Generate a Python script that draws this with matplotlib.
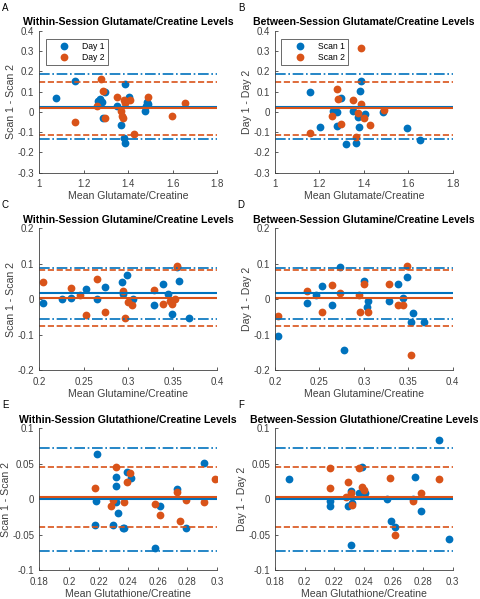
import matplotlib
matplotlib.use("Agg")
import matplotlib.pyplot as plt
from matplotlib.ticker import FuncFormatter, FixedLocator

plt.rcParams['font.family'] = ['Liberation Sans', 'DejaVu Sans']

BLUE = '#0072BD'
ORANGE = '#D95319'

# ---------------- Panel A: Within-session Glutamate ----------------
a_day1_x = [1.073, 1.162, 1.265, 1.273, 1.282, 1.288, 1.297, 1.350, 1.366, 1.387, 1.380, 1.387, 1.405, 1.478, 1.479, 1.483, 1.491]
a_day1_y = [0.066, 0.151, 0.052, 0.063, 0.050, -0.032, 0.100, 0.027, -0.063, 0.138, -0.128, -0.156, 0.073, 0.006, 0.030, 0.050, 0.040]
a_day2_x = [1.162, 1.277, 1.288, 1.262, 1.297, 1.350, 1.370, 1.373, 1.378, 1.380, 1.407, 1.427, 1.491, 1.596, 1.658, 1.385]
a_day2_y = [-0.050, 0.163, 0.104, 0.027, -0.030, 0.071, 0.006, -0.020, -0.030, 0.057, 0.057, -0.109, 0.075, -0.022, 0.042, 0.045]
a_bias = [0.024, 0.019]
a_loa_blue = [0.187, -0.133]
a_loa_orange = [0.148, -0.112]

# ---------------- Panel B: Between-session Glutamate ----------------
b_scan1_x = [1.159, 1.203, 1.260, 1.279, 1.280, 1.297, 1.320, 1.350, 1.364, 1.372, 1.378, 1.383, 1.389, 1.405, 1.488, 1.593, 1.655]
b_scan1_y = [0.099, -0.076, 0.003, 0.000, -0.068, 0.068, -0.160, 0.006, -0.156, -0.027, -0.073, 0.105, 0.151, -0.010, 0.000, -0.082, -0.137]
b_scan2_x = [1.159, 1.257, 1.278, 1.285, 1.296, 1.350, 1.365, 1.387, 1.375, 1.389, 1.400, 1.426, 1.490]
b_scan2_y = [-0.102, -0.020, 0.113, 0.065, -0.062, 0.056, -0.125, 0.313, -0.006, 0.040, -0.030, -0.065, 0.010]
b_bias = [0.025, 0.019]
b_loa_blue = [0.187, -0.133]
b_loa_orange = [0.148, -0.112]

# ---------------- Panel C: Within-session Glutamine ----------------
c_day1_x = [0.2037, 0.2255, 0.236, 0.253, 0.265, 0.274, 0.293, 0.299, 0.294, 0.305, 0.329, 0.339, 0.345, 0.349, 0.357, 0.369, 0.355]
c_day1_y = [-0.010, 0.001, 0.003, 0.028, 0.000, 0.035, 0.050, 0.068, 0.016, 0.000, -0.017, 0.044, 0.016, -0.042, 0.051, -0.052, 0.090]
c_day2_x = [0.2037, 0.236, 0.2457, 0.253, 0.265, 0.274, 0.294, 0.297, 0.300, 0.304, 0.329, 0.339, 0.347, 0.349, 0.353, 0.355]
c_day2_y = [0.049, 0.033, 0.012, -0.043, 0.058, -0.037, 0.023, -0.053, -0.007, -0.016, 0.027, -0.014, -0.005, -0.012, 0.002, 0.094]
c_bias = [0.017, 0.004]
c_loa_blue = [0.089, -0.056]
c_loa_orange = [0.083, -0.074]

# ---------------- Panel D: Between-session Glutamine ----------------
d_scan1_x = [0.2038, 0.2356, 0.246, 0.253, 0.2645, 0.273, 0.278, 0.3006, 0.305, 0.304, 0.328, 0.338, 0.344, 0.349, 0.353, 0.355, 0.368]
d_scan1_y = [-0.104, -0.010, 0.013, 0.037, -0.015, 0.090, -0.142, 0.051, -0.005, -0.021, -0.004, 0.044, 0.004, 0.062, -0.064, -0.039, -0.065]
d_scan2_x = [0.2038, 0.2356, 0.253, 0.2645, 0.273, 0.294, 0.296, 0.3006, 0.305, 0.328, 0.338, 0.344, 0.349, 0.353]
d_scan2_y = [-0.047, 0.022, -0.035, 0.041, 0.018, 0.013, -0.037, 0.044, -0.037, 0.042, -0.015, -0.017, 0.094, -0.156]
d_bias = [0.018, 0.004]
d_loa_blue = [0.089, -0.056]
d_loa_orange = [0.083, -0.074]

# ---------------- Panel E: Within-session Glutathione ----------------
e_day1_x = [0.219, 0.218, 0.2175, 0.230, 0.2315, 0.2317, 0.232, 0.233, 0.2367, 0.2375, 0.2393, 0.2416, 0.258, 0.2616, 0.273, 0.279, 0.2915]
e_day1_y = [0.0638, -0.0026, -0.036, -0.0355, -0.0035, 0.019, 0.031, -0.019, -0.0398, -0.041, 0.039, 0.030, -0.0692, -0.009, 0.0139, -0.040, 0.0515]
e_day2_x = [0.2175, 0.2286, 0.2301, 0.232, 0.237, 0.2395, 0.241, 0.2578, 0.2616, 0.273, 0.2748, 0.2793, 0.2915, 0.2984]
e_day2_y = [0.016, -0.009, -0.0016, 0.046, -0.004, 0.0238, 0.037, -0.007, -0.022, 0.0106, -0.030, -0.001, -0.0035, 0.028]
e_bias = [0.000, 0.003]
e_loa_blue = [0.0727, -0.0727]
e_loa_orange = [0.046, -0.039]

# ---------------- Panel F: Between-session Glutathione ----------------
f_scan1_x = [0.1895, 0.2174, 0.2174, 0.2295, 0.2313, 0.232, 0.2311, 0.237, 0.239, 0.2405, 0.2554, 0.2581, 0.2613, 0.273, 0.2746, 0.2786, 0.291, 0.2977]
f_scan1_y = [0.028, -0.0023, -0.009, -0.009, 0.011, -0.0047, -0.065, 0.0094, 0.045, 0.0094, 0.000, -0.031, -0.0385, 0.000, 0.031, -0.0164, 0.0835, -0.0563]
f_scan2_x = [0.2174, 0.2171, 0.2279, 0.2295, 0.2315, 0.2318, 0.237, 0.239, 0.2403, 0.2579, 0.2613, 0.273, 0.2786, 0.291]
f_scan2_y = [0.044, 0.0164, 0.0038, 0.025, 0.009, -0.008, 0.044, 0.0178, 0.013, 0.030, -0.050, -0.0023, 0.0085, 0.028]
f_bias = [0.000, 0.003]
f_loa_blue = [0.0727, -0.0727]
f_loa_orange = [0.046, -0.039]

titles = ['Within-Session Glutamate/Creatine Levels', 'Between-Session Glutamate/Creatine Levels',
          'Within-Session Glutamine/Creatine Levels', 'Between-Session Glutamine/Creatine Levels',
          'Within-Session Glutathione/Creatine Levels', 'Between-Session Glutathione/Creatine Levels']
xlabels = ['Mean Glutamate/Creatine'] * 2 + ['Mean Glutamine/Creatine'] * 2 + ['Mean Glutathione/Creatine'] * 2
ylabels = ['Scan 1 - Scan 2', 'Day 1 - Day 2'] * 3
letters = ['A', 'B', 'C', 'D', 'E', 'F']

panels = [
    (a_day1_x, a_day1_y, a_day2_x, a_day2_y, a_bias, a_loa_blue, a_loa_orange),
    (b_scan1_x, b_scan1_y, b_scan2_x, b_scan2_y, b_bias, b_loa_blue, b_loa_orange),
    (c_day1_x, c_day1_y, c_day2_x, c_day2_y, c_bias, c_loa_blue, c_loa_orange),
    (d_scan1_x, d_scan1_y, d_scan2_x, d_scan2_y, d_bias, d_loa_blue, d_loa_orange),
    (e_day1_x, e_day1_y, e_day2_x, e_day2_y, e_bias, e_loa_blue, e_loa_orange),
    (f_scan1_x, f_scan1_y, f_scan2_x, f_scan2_y, f_bias, f_loa_blue, f_loa_orange),
]

xlims = [(1, 1.8)] * 2 + [(0.2, 0.4)] * 2 + [(0.18, 0.3)] * 2
ylims = [(-0.3, 0.4)] * 2 + [(-0.2, 0.2)] * 2 + [(-0.1, 0.1)] * 2
xticks = [[1, 1.2, 1.4, 1.6, 1.8]] * 2 + [[0.2, 0.25, 0.3, 0.35, 0.4]] * 2 + [[0.18, 0.2, 0.22, 0.24, 0.26, 0.28, 0.3]] * 2
yticks = [[-0.3, -0.2, -0.1, 0, 0.1, 0.2, 0.3, 0.4]] * 2 + [[-0.2, -0.1, 0, 0.1, 0.2]] * 2 + [[-0.1, -0.05, 0, 0.05, 0.1]] * 2
legends = [['Day 1', 'Day 2'], ['Scan 1', 'Scan 2'], None, None, None, None]

fig = plt.figure(figsize=(4.8, 5.99), dpi=100)
W, H = 480, 599
lefts = [39.3, 275.0]
tops = [30.7, 228.3, 428.3]
aw, ah = 177.7, 142.0

fmt = FuncFormatter(lambda v, p: ('%g' % round(v, 6)))
GRAY = '#404040'

for i, (x1, y1, x2, y2, bias, loab, loao) in enumerate(panels):
    r, c = divmod(i, 2)
    ax = fig.add_axes([lefts[c] / W, 1 - (tops[r] + ah) / H, aw / W, ah / H])
    ax.plot(x1, y1, 'o', color=BLUE, ms=5.6, mec='none', label=(legends[i][0] if legends[i] else None))
    ax.plot(x2, y2, 'o', color=ORANGE, ms=5.6, mec='none', label=(legends[i][1] if legends[i] else None))
    xl = xlims[i]
    ax.plot(xl, [bias[0]] * 2, '-', color=BLUE, lw=1.5)
    ax.plot(xl, [bias[1]] * 2, '-', color=ORANGE, lw=1.5)
    for v in loab:
        ax.plot(xl, [v] * 2, '-.', color=BLUE, lw=1.2)
    for v in loao:
        ax.plot(xl, [v] * 2, '--', color=ORANGE, lw=1.2)
    ax.set_xlim(*xl)
    ax.set_ylim(*ylims[i])
    ax.xaxis.set_major_locator(FixedLocator(xticks[i]))
    ax.yaxis.set_major_locator(FixedLocator(yticks[i]))
    ax.xaxis.set_major_formatter(fmt)
    ax.yaxis.set_major_formatter(fmt)
    for s in ['top', 'right']:
        ax.spines[s].set_visible(False)
    for s in ['left', 'bottom']:
        ax.spines[s].set_color(GRAY)
        ax.spines[s].set_linewidth(0.6)
    ax.tick_params(direction='in', length=2.5, width=0.6, colors=GRAY, labelsize=7)
    ax.tick_params(axis='y', pad=3.5)
    ax.tick_params(axis='x', pad=4.5)
    ax.set_title(titles[i], fontsize=7.6, fontweight='bold', pad=4, color='black')
    ax.set_xlabel(xlabels[i], fontsize=7.6, color=GRAY, labelpad=1.5)
    ax.set_ylabel(ylabels[i], fontsize=7.6, color=GRAY, labelpad=1)
    if legends[i]:
        leg = ax.legend(loc='upper left', bbox_to_anchor=(0.035, 0.94), borderaxespad=0,
                        fontsize=6.2, frameon=True, fancybox=False, handlelength=3.6,
                        handletextpad=0.3, borderpad=0.35, labelspacing=0.2, numpoints=1)
        leg.get_frame().set_edgecolor('#262626')
        leg.get_frame().set_linewidth(0.6)
    fig.text((lefts[c] - 34) / W, 1 - (tops[r] - 23) / H, letters[i], fontsize=7, va='center', ha='center')

fig.savefig('out.png', dpi=100)
